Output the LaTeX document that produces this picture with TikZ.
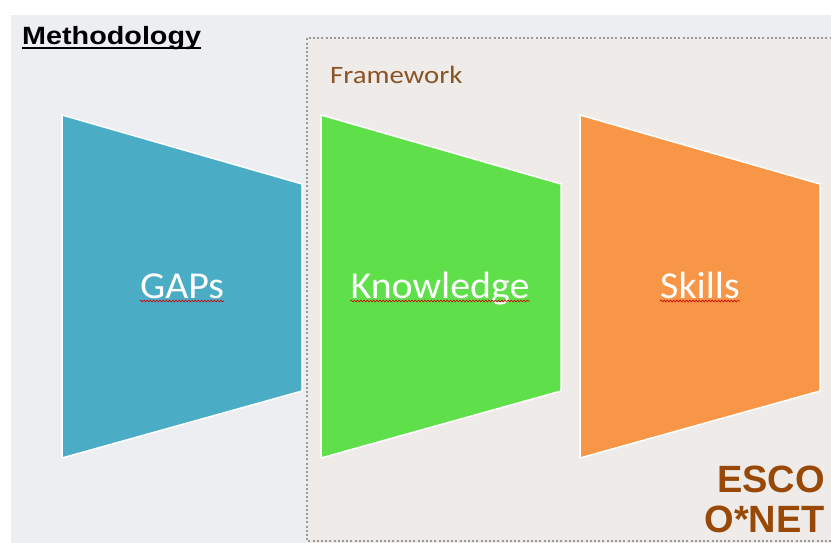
\documentclass[tikz,border=0pt]{standalone}
\usepackage{fontspec}
\setmainfont{Liberation Sans}
\newfontfamily\calibri{Carlito}
\usetikzlibrary{decorations.pathmorphing}
\definecolor{bgout}{HTML}{ECEEF2}
\definecolor{bgframe}{HTML}{EFEBE9}
\definecolor{gapblue}{HTML}{4BACC6}
\definecolor{kgreen}{HTML}{5FE04A}
\definecolor{sorange}{HTML}{F79646}
\definecolor{brownA}{HTML}{8A5526}
\definecolor{brownB}{HTML}{984807}
\definecolor{dotgray}{HTML}{9A9A9A}
\tikzset{
  trap/.style={draw=white, line width=1.5pt, line join=miter},
  lbl/.style={font=\calibri\fontsize{38}{40}\selectfont, text=white, inner sep=0pt, anchor=base, xscale=1.05},
  squig/.style={draw=red!80!black, line width=0.6pt, decorate, decoration={snake, amplitude=0.9pt, segment length=3.2pt}},
  esco/.style={font=\bfseries\fontsize{38}{40}\selectfont, text=brownB, inner sep=0pt, anchor=base east}
}
\begin{document}
\begin{tikzpicture}[x=1pt,y=-1pt]
\useasboundingbox (0,0) rectangle (831,543);
\fill[white] (0,0) rectangle (831,543);
\fill[bgout] (11,15) rectangle (831,543);
\fill[bgframe] (307,38) rectangle (831,543);
\draw[dotgray, line width=2pt, dash pattern=on 2pt off 2.2pt] (840,38) -- (307,38) -- (307,541) -- (840,541);
\node[font=\bfseries\fontsize{25}{28}\selectfont, anchor=base west, inner sep=0pt, xscale=1.15] (meth) at (22,44.3) {Methodology};
\draw[line width=1.8pt] ([yshift=-3.8pt]meth.base west) -- ([yshift=-3.8pt]meth.base east);
\node[font=\calibri\fontsize{25}{28}\selectfont, text=brownA, anchor=base west, inner sep=0pt, xscale=1.15] (fw) at (330,83.3) {Framework};
% trapezoids
\draw[trap, fill=gapblue] (62,115) -- (302,184) -- (302,391) -- (62,458) -- cycle;
\draw[trap, fill=kgreen] (321,115) -- (561,184) -- (561,391) -- (321,458) -- cycle;
\draw[trap, fill=sorange] (580,115) -- (820,184) -- (820,391) -- (580,458) -- cycle;
\node[lbl] (gaps) at (182,298) {GAPs};
\node[lbl] (know) at (440,298) {Knowledge};
\node[lbl] (skills) at (700,298) {Skills};
\draw[squig] ([yshift=-3pt]gaps.base west) -- ([yshift=-3pt]gaps.base east);
\draw[squig] ([yshift=-3pt]know.base west) -- ([yshift=-3pt]know.base east);
\draw[squig] ([yshift=-3pt]skills.base west) -- ([yshift=-3pt]skills.base east);
\node[esco] (escoT) at (825,492) {ESCO};
\node[esco] (onet) at (825,532) {O*NET};
\end{tikzpicture}
\end{document}
